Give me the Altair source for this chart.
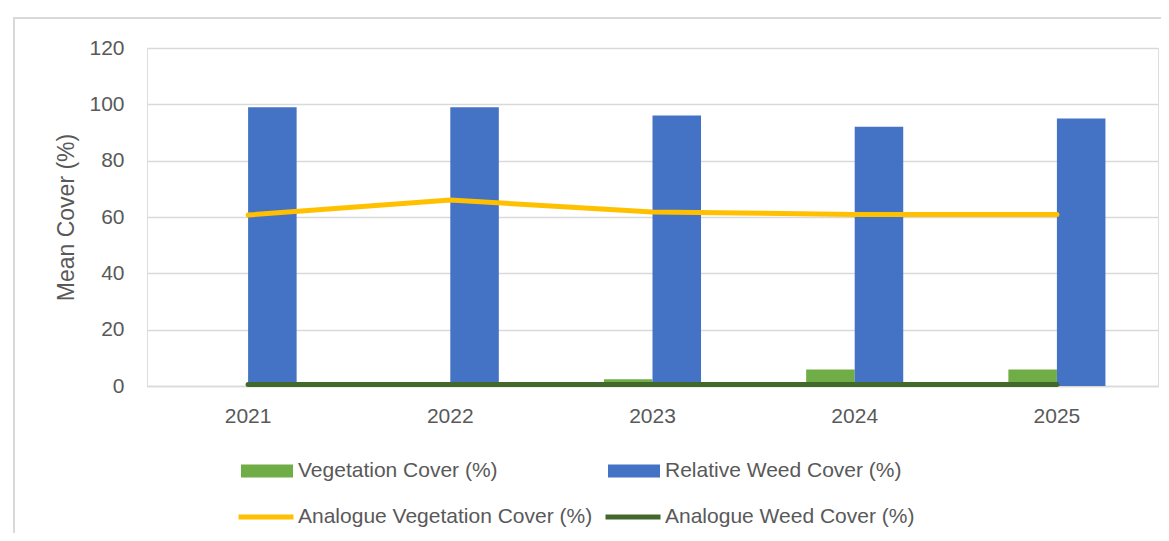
import altair as alt
import pandas as pd

years = ["2021", "2022", "2023", "2024", "2025"]
veg_cover = [0, 0, 2.4, 5.9, 5.9]
weed_cover = [99, 99, 96, 92, 95]
analogue_veg = [60.7, 66.0, 61.8, 60.9, 60.9]
analogue_weed = [0.5, 0.5, 0.5, 0.5, 0.5]

bar_series = ["Vegetation Cover (%)", "Relative Weed Cover (%)"]
line_series = ["Analogue Vegetation Cover (%)", "Analogue Weed Cover (%)"]
bar_colors = ["#70AD47", "#4472C4"]
line_colors = ["#FFC000", "#43682B"]

bars_df = pd.DataFrame(
    [{"Year": y, "Series": bar_series[0], "Value": v} for y, v in zip(years, veg_cover)]
    + [{"Year": y, "Series": bar_series[1], "Value": v} for y, v in zip(years, weed_cover)]
)
lines_df = pd.DataFrame(
    [{"Year": y, "Series": line_series[0], "Value": v} for y, v in zip(years, analogue_veg)]
    + [{"Year": y, "Series": line_series[1], "Value": v} for y, v in zip(years, analogue_weed)]
)

FONT = "Liberation Sans"
TXT = "#595959"
GRID = "#d9d9d9"

x_scale = alt.Scale(domain=years, paddingInner=0.52, paddingOuter=0.26)
y_scale = alt.Scale(domain=[0, 120], nice=False)

x_enc = alt.X(
    "Year:N", scale=x_scale, sort=years,
    axis=alt.Axis(title=None, labelAngle=0, ticks=False, tickSize=0, labelPadding=19,
                  domainColor=GRID, domainWidth=1.5, labelFont=FONT, labelFontSize=21,
                  labelColor=TXT, grid=False),
)
y_enc = alt.Y(
    "Value:Q", scale=y_scale,
    axis=alt.Axis(title="Mean Cover (%)", values=[0, 20, 40, 60, 80, 100, 120], domain=False,
                  ticks=False, tickSize=0, labelPadding=23, gridColor=GRID, gridWidth=1.5,
                  labelFont=FONT, labelFontSize=21, labelColor=TXT, titleFont=FONT,
                  titleFontSize=23, titleColor=TXT, titleFontWeight="normal", titlePadding=10),
)

bars = alt.Chart(bars_df).mark_bar().encode(
    x=x_enc,
    xOffset=alt.XOffset("Series:N", sort=bar_series,
                        scale=alt.Scale(domain=bar_series, paddingInner=0, paddingOuter=0)),
    y=y_enc,
    fill=alt.Fill(
        "Series:N",
        scale=alt.Scale(domain=bar_series, range=bar_colors),
        legend=alt.Legend(
            title=None, orient="none", legendX=94, legendY=397, direction="horizontal",
            columns=2, columnPadding=110, symbolType="M-1,-0.25H1V0.25H-1Z",
            symbolSize=2704, symbolStrokeWidth=0, labelOffset=5, labelFont=FONT,
            labelFontSize=21, labelColor=TXT, padding=0, labelLimit=400,
        ),
    ),
)

lines = alt.Chart(lines_df).mark_line(strokeWidth=5, strokeCap="round").encode(
    x=alt.X("Year:N", scale=x_scale, sort=years),
    y=alt.Y("Value:Q", scale=y_scale),
    stroke=alt.Stroke(
        "Series:N",
        scale=alt.Scale(domain=line_series, range=line_colors),
        legend=alt.Legend(
            title=None, orient="none", legendX=89, legendY=439, direction="horizontal",
            columns=2, columnPadding=2, symbolType="stroke", symbolSize=3025,
            symbolStrokeWidth=5, labelOffset=2, labelFont=FONT, labelFontSize=21,
            labelColor=TXT, padding=0, labelLimit=400,
        ),
    ),
)

frame = alt.Chart(pd.DataFrame({"k": [0]})).mark_rect(
    fillOpacity=0, stroke=GRID, strokeWidth=2
).encode(
    x=alt.value(-133), x2=alt.value(1100), y=alt.value(-30), y2=alt.value(560)
)

chart = alt.layer(frame, bars, lines).properties(
    width=1011,
    height=338,
    autosize=alt.AutoSizeParams(type="none"),
    padding={"left": 139, "top": 40, "right": 3, "bottom": 147},
).configure_view(stroke=None).configure(background="white")

chart.save("out.html", embed_options={"renderer": "svg", "actions": False})
